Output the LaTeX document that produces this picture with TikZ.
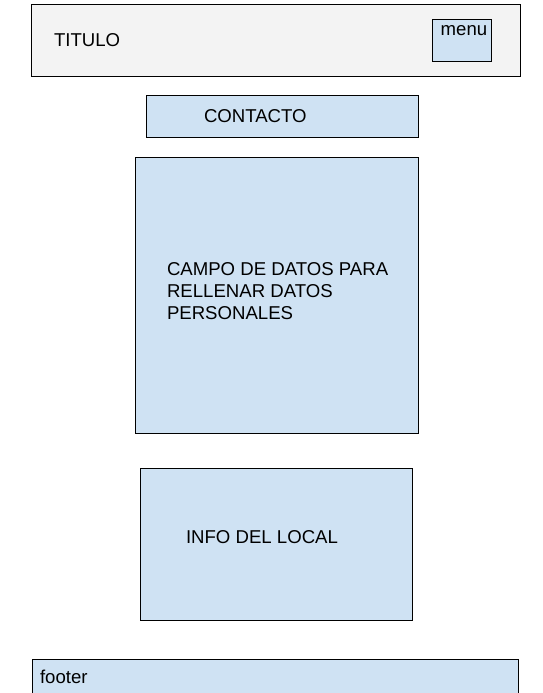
\documentclass[tikz,border=0pt]{standalone}
\usepackage{fontspec}
\setmainfont{Liberation Sans}
\definecolor{celeste}{HTML}{CFE2F3}
\definecolor{gris}{HTML}{F3F3F3}
\begin{document}
\begin{tikzpicture}[x=1pt, y=-1pt, inner sep=0pt, outer sep=0pt,
  caja/.style={draw=black, line width=0.8pt, fill=celeste, anchor=north west},
  texto/.style={font=\fontsize{18.6}{22}\selectfont, text=black}]
  \path[clip] (0,0) rectangle (543,693);
  % cabecera
  \node[caja, fill=gris, minimum width=489pt, minimum height=72pt] (cabecera) at (31,4) {};
  \node[texto, anchor=west] (titulo) at (54,40) {TITULO};
  \node[caja, minimum width=59pt, minimum height=42pt] (menu) at (432,19) {};
  \node[texto] (menutxt) at (464,31) {menu};
  % contacto
  \node[caja, minimum width=272pt, minimum height=42pt] (contacto) at (146,95) {};
  \node[texto, anchor=west] (contactotxt) at (204,116) {CONTACTO};
  % campo de datos
  \node[caja, minimum width=283pt, minimum height=276pt] (campo) at (135,157) {};
  \node[texto, anchor=north west, align=left] (campotxt) at (167,262.5)
    {CAMPO DE DATOS PARA\\RELLENAR DATOS\\PERSONALES};
  % info del local
  \node[caja, minimum width=272pt, minimum height=152pt] (info) at (140,468) {};
  \node[texto, anchor=west] (infotxt) at (186,537) {INFO DEL LOCAL};
  % footer
  \node[caja, minimum width=486pt, minimum height=45pt] (footer) at (32,659) {};
  \node[texto, anchor=west] (footertxt) at (40,677) {footer};
\end{tikzpicture}
\end{document}
